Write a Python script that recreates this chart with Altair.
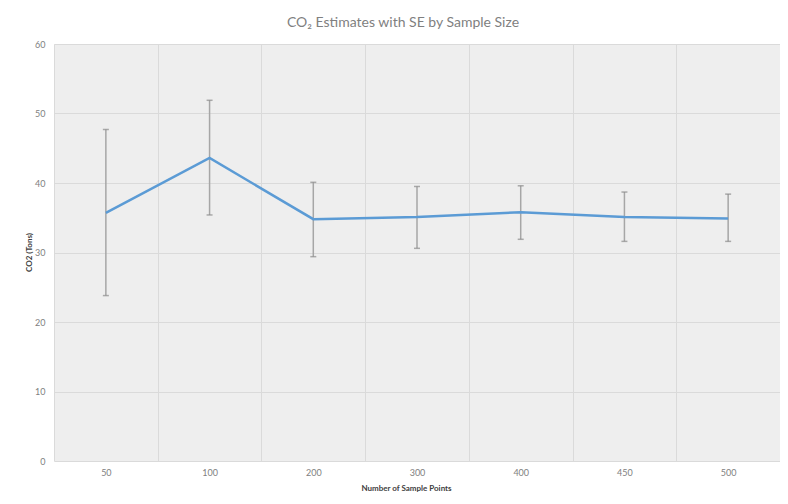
import altair as alt
import pandas as pd

sample_sizes = ["50", "100", "200", "300", "400", "450", "500"]
co2_mean = [35.7, 43.6, 34.8, 35.1, 35.8, 35.1, 34.9]
co2_lower = [23.8, 35.4, 29.4, 30.6, 31.9, 31.6, 31.6]
co2_upper = [47.7, 51.9, 40.1, 39.5, 39.6, 38.7, 38.4]
y_ticks = [0, 10, 20, 30, 40, 50, 60]

df = pd.DataFrame({
    "n": sample_sizes,
    "mean": co2_mean,
    "lower": co2_lower,
    "upper": co2_upper,
})

FONT = "Lato"

x_enc = alt.X(
    "n:O",
    sort=sample_sizes,
    scale=alt.Scale(paddingInner=0, paddingOuter=0),
    axis=alt.Axis(
        title="Number of Sample Points",
        labelAngle=0,
        tickBand="extent",
        grid=True,
        ticks=False,
        domain=False,
        labelPadding=7,
        labelFontSize=9,
        labelColor="#808080",
        titleFontSize=8,
        titleFontWeight="bold",
        titleColor="#404040",
        titleX=352,
        titleY=27,
        titleBaseline="middle",
        titleAlign="center",
    ),
)

y_scale = alt.Scale(domain=[0, 60], nice=False)
y_axis = alt.Axis(
    title="CO2 (Tons)",
    values=y_ticks,
    grid=True,
    ticks=False,
    domain=False,
    labelPadding=9,
    labelFontSize=9,
    labelColor="#808080",
    titleFontSize=8,
    titleFontWeight="bold",
    titleColor="#404040",
    titleX=-25,
    titleY=208,
    titleAngle=-90,
    titleAlign="center",
    titleBaseline="middle",
)

base = alt.Chart(df)

err = base.mark_rule(color="#a6a6a6", strokeWidth=1.5).encode(
    x=x_enc,
    y=alt.Y("lower:Q", scale=y_scale, axis=y_axis),
    y2="upper:Q",
)
cap_lo = base.mark_tick(color="#8c8c8c", size=6, thickness=1.5).encode(
    x=x_enc, y=alt.Y("lower:Q", scale=y_scale)
)
cap_hi = base.mark_tick(color="#8c8c8c", size=6, thickness=1.5).encode(
    x=x_enc, y=alt.Y("upper:Q", scale=y_scale)
)
line = base.mark_line(color="#5b9bd5", strokeWidth=2.5).encode(
    x=x_enc, y=alt.Y("mean:Q", scale=y_scale)
)

chart = alt.layer(err, cap_lo, cap_hi, line).properties(
    width=726,
    height=417,
    autosize=alt.AutoSizeParams(type="none"),
    padding={"left": 46, "top": 36, "right": 0, "bottom": 42},
    background="white",
    title=alt.TitleParams(
        text="CO₂ Estimates with SE by Sample Size",
        anchor="middle",
        frame="group",
        dx=-14,
        offset=10,
        fontSize=14,
        fontWeight="normal",
        color="#7f7f7f",
        font=FONT,
    ),
).configure_view(
    fill="#eeeeee", stroke=None
).configure_axis(
    gridColor="#dadada", gridWidth=1, labelFont=FONT, titleFont=FONT
)

chart.save("out.html", embed_options={"renderer": "svg", "actions": False})
